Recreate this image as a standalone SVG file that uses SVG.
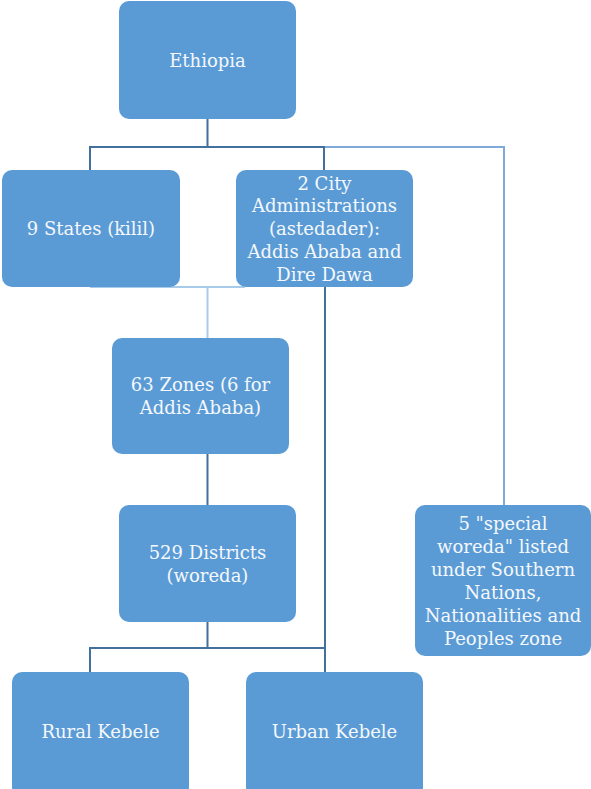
<svg xmlns="http://www.w3.org/2000/svg" width="591" height="789" viewBox="0 0 591 789">
<style>
.box{fill:#5B9BD5;}
.t{font-family:"DejaVu Serif","Liberation Serif",serif;font-size:18px;fill:#F4F8FC;text-anchor:middle;dominant-baseline:central;}
.c{fill:none;stroke:#41719C;stroke-width:2;}
.cm{fill:none;stroke:#7EA9D8;stroke-width:2;}
.cl{fill:none;stroke:#A9CBEA;stroke-width:2;}
</style>
<rect width="591" height="789" fill="#ffffff"/>
<g id="connectors">
<path class="cm" d="M325,147 H504 V505"/>
<path class="c" d="M207.5,119 V147 M90,170 V147 H324 V170"/>
<path class="cl" d="M90,287 H245 M207.5,287 V338"/>
<path class="c" d="M325,287 V648"/>
<path class="c" d="M207.5,454 V505"/>
<path class="c" d="M207.5,622 V648 M90,672 V648 H325 V672"/>
</g>
<g id="ethiopia"><rect class="box" x="119" y="1" width="177" height="118" rx="10"/><text class="t" x="207.5" y="60">Ethiopia</text></g>
<g id="states"><rect class="box" x="2" y="170" width="178" height="117" rx="10"/><text class="t" x="91" y="228">9 States (kilil)</text></g>
<g id="city"><rect class="box" x="236" y="170" width="177" height="117" rx="10"/>
<text class="t" x="324.5" y="183">2 City</text>
<text class="t" x="324.5" y="205">Administrations</text>
<text class="t" x="324.5" y="228">(astedader):</text>
<text class="t" x="324.5" y="251">Addis Ababa and</text>
<text class="t" x="324.5" y="274">Dire Dawa</text></g>
<g id="zones"><rect class="box" x="112" y="338" width="177" height="116" rx="10"/>
<text class="t" x="200.5" y="384">63 Zones (6 for</text>
<text class="t" x="200.5" y="407">Addis Ababa)</text></g>
<g id="districts"><rect class="box" x="119" y="505" width="177" height="117" rx="10"/>
<text class="t" x="207.5" y="552">529 Districts</text>
<text class="t" x="207.5" y="575">(woreda)</text></g>
<g id="special"><rect class="box" x="415" y="505" width="176" height="151" rx="10"/>
<text class="t" x="503" y="523">5 "special</text>
<text class="t" x="503" y="546">woreda" listed</text>
<text class="t" x="503" y="569">under Southern</text>
<text class="t" x="503" y="592">Nations,</text>
<text class="t" x="503" y="615">Nationalities and</text>
<text class="t" x="503" y="638">Peoples zone</text></g>
<g id="rural"><rect class="box" x="12" y="672" width="177" height="125" rx="10"/><text class="t" x="100.5" y="731">Rural Kebele</text></g>
<g id="urban"><rect class="box" x="246" y="672" width="177" height="125" rx="10"/><text class="t" x="334.5" y="731">Urban Kebele</text></g>
</svg>
